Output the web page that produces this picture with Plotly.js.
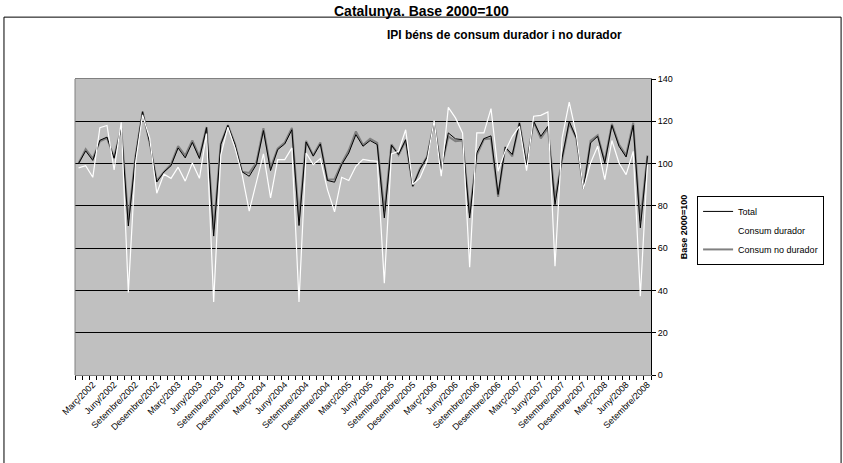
<!DOCTYPE html>
<html>
<head>
<meta charset="utf-8">
<script src="https://cdn.plot.ly/plotly-3.0.1.min.js"></script>
<style>html,body{margin:0;padding:0;background:#fff;}#chart{width:843px;height:463px;}</style>
</head>
<body>
<div id="chart"></div>
<script>
// Months Gener/2002 .. Setembre/2008
const months = [
"Gener/2002","Febrer/2002","Març/2002","Abril/2002","Maig/2002","Juny/2002","Juliol/2002","Agost/2002","Setembre/2002","Octubre/2002","Novembre/2002","Desembre/2002",
"Gener/2003","Febrer/2003","Març/2003","Abril/2003","Maig/2003","Juny/2003","Juliol/2003","Agost/2003","Setembre/2003","Octubre/2003","Novembre/2003","Desembre/2003",
"Gener/2004","Febrer/2004","Març/2004","Abril/2004","Maig/2004","Juny/2004","Juliol/2004","Agost/2004","Setembre/2004","Octubre/2004","Novembre/2004","Desembre/2004",
"Gener/2005","Febrer/2005","Març/2005","Abril/2005","Maig/2005","Juny/2005","Juliol/2005","Agost/2005","Setembre/2005","Octubre/2005","Novembre/2005","Desembre/2005",
"Gener/2006","Febrer/2006","Març/2006","Abril/2006","Maig/2006","Juny/2006","Juliol/2006","Agost/2006","Setembre/2006","Octubre/2006","Novembre/2006","Desembre/2006",
"Gener/2007","Febrer/2007","Març/2007","Abril/2007","Maig/2007","Juny/2007","Juliol/2007","Agost/2007","Setembre/2007","Octubre/2007","Novembre/2007","Desembre/2007",
"Gener/2008","Febrer/2008","Març/2008","Abril/2008","Maig/2008","Juny/2008","Juliol/2008","Agost/2008","Setembre/2008"
];

const total = [
100,106,101.5,111,112.5,102.5,117,70.5,103,124.5,110,91.3,
96,99,107.4,102.7,110,102.4,117,65.7,109,118.1,109,96.1,
94,99.5,115.6,96.7,106.6,109.3,116,70.7,110.2,103.5,109.3,92,
91.2,99.5,105,113.7,108.2,110.9,109,74.3,108.7,104.3,111.3,89.3,
97.2,103,119.7,97.2,114.5,111.7,111.3,74.3,105,111.8,113.1,85.4,
107.7,104.3,119.2,99.5,120,112.9,117.6,80.6,102.7,120,112.1,88,
109.8,112.9,100.3,118.1,108.2,103.1,118.1,69.6,103.5
];

const durador = [
98,99,93.5,117,118,97,119.5,39,100,123,112,86,
95,93,98.3,91.7,100.3,93,114.2,34.6,104,117.2,107.4,94.8,
77.5,90.9,104.6,83.8,101.9,101.9,107.4,34.6,105,99.5,102.4,87.7,
77.2,93.5,92,98.7,102,101.4,101.1,43.4,104.6,105.8,116,90.1,
93.2,101.1,120.3,94,126.6,121.6,114.5,51,114.5,114.5,126,96.4,
106,112.9,117.6,96.7,122.4,122.8,124.4,51.5,112.1,129.1,113.7,88,
100.3,108.2,92.4,110.9,100.3,94.8,105.8,37.3,99.5
];

const noDurador = [
100.2,106.8,102.3,110.5,112,103,116.8,73.5,103.3,124.6,109.8,91.8,
96.1,99.6,108.3,103.8,111,103.3,117.3,68.8,109.5,118.2,109.2,96.2,
95.6,100.4,116.7,98,107.1,110,116.9,74.3,110.7,103.9,110,92.4,
92.6,100.1,106.3,115.2,108.8,111.8,109.8,77.4,109.1,104.1,110.8,89.2,
97.6,103.2,119.6,97.5,112.9,110.6,110.9,76.6,104,111.5,111.8,84.3,
107.9,103.4,119.4,99.8,119.8,111.9,116.9,83.5,101.8,119.1,111.9,88,
110.8,113.4,101.1,118.8,109,103.9,119.3,72.8,103.9
];

const yTicks = [0,20,40,60,80,100,120,140];

const xIdx = months.map((m, i) => i);
const labelIdx = xIdx.filter(i => i % 3 === 2);
const labelText = labelIdx.map(i => months[i]);

const FONT = "Liberation Sans, Arial, sans-serif";

const traces = [
  {x: xIdx, y: noDurador, name: "Consum no durador", type: "scatter", mode: "lines",
   line: {color: "#808080", width: 2}, legendrank: 3, hoverinfo: "skip"},
  {x: xIdx, y: total, name: "Total", type: "scatter", mode: "lines",
   line: {color: "#000000", width: 1}, legendrank: 1, hoverinfo: "skip"},
  {x: xIdx, y: durador, name: "Consum durador", type: "scatter", mode: "lines",
   line: {color: "#ffffff", width: 1.2}, legendrank: 2, hoverinfo: "skip"}
];

const layout = {
  width: 843, height: 463,
  margin: {l: 75, r: 192, t: 79, b: 88, pad: 0},
  paper_bgcolor: "#ffffff",
  plot_bgcolor: "#c0c0c0",
  font: {family: FONT, color: "#000", size: 9},
  showlegend: true,
  legend: {
    x: 1.08, y: 0.605, xanchor: "left", yanchor: "top",
    bgcolor: "#ffffff", bordercolor: "#000", borderwidth: 1,
    font: {family: FONT, size: 9, color: "#000"},
    traceorder: "normal"
  },
  xaxis: {
    type: "linear", range: [-0.5, months.length - 0.5],
    tickmode: "array", tickvals: labelIdx, ticktext: labelText,
    tickangle: -45, tickfont: {family: FONT, size: 9, color: "#000"},
    ticks: "", showgrid: false, zeroline: false,
    showline: true, linecolor: "#808080", linewidth: 1, mirror: true,
    minor: {ticks: "outside", ticklen: 4, tickcolor: "#000", tickwidth: 1, tick0: -0.5, dtick: 1, showgrid: false},
    fixedrange: true
  },
  yaxis: {
    side: "right", range: [0, 140],
    tickmode: "array", tickvals: yTicks, ticktext: yTicks.map(String),
    ticks: "outside", ticklen: 4, tickcolor: "#000",
    tickfont: {family: FONT, size: 9, color: "#000"},
    showgrid: true, gridcolor: "#000", gridwidth: 1,
    zeroline: false, showline: true, linecolor: "#000", linewidth: 1,
    title: {text: "Base 2000=100", font: {family: FONT, size: 9, color: "#000", weight: "bold"}, standoff: 8},
    fixedrange: true
  },
  shapes: [
    {type: "line", xref: "paper", yref: "paper", x0: 0, x1: 0, y0: 0, y1: 1,
     line: {color: "#808080", width: 1}},
    {type: "rect", xref: "paper", yref: "paper", x0: -0.1233, x1: 1.330, y0: -0.33, y1: 1.209,
     line: {color: "#000", width: 1}, fillcolor: "rgba(0,0,0,0)"}
  ],
  annotations: [
    {text: "<b>Catalunya. Base 2000=100</b>", xref: "paper", yref: "paper",
     x: 0.602, y: 1.264, xanchor: "center", yanchor: "top", showarrow: false,
     font: {family: FONT, size: 14, color: "#000"}},
    {text: "<b>IPI béns de consum durador i no durador</b>", xref: "paper", yref: "paper",
     x: 0.745, y: 1.149, xanchor: "center", yanchor: "middle", showarrow: false,
     font: {family: FONT, size: 12, color: "#000"}}
  ]
};

Plotly.newPlot("chart", traces, layout, {displayModeBar: false, staticPlot: true});
</script>
</body>
</html>
